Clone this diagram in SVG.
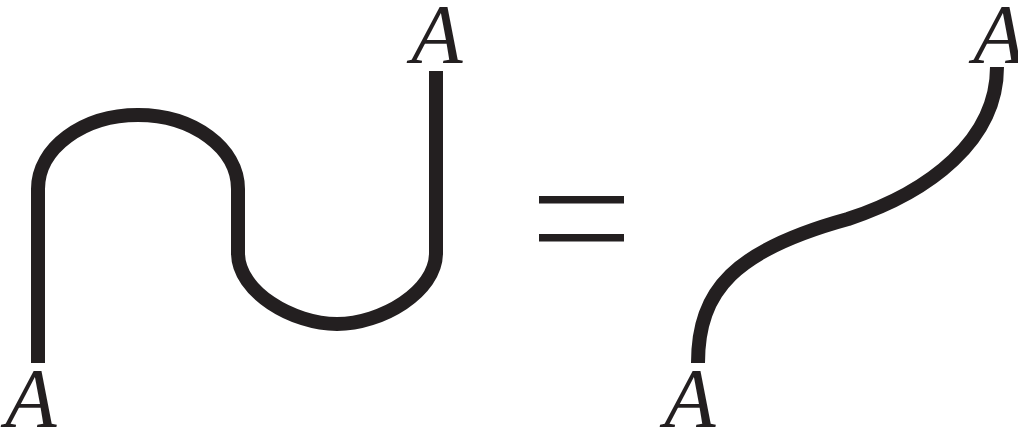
<svg xmlns="http://www.w3.org/2000/svg" width="1018" height="432" viewBox="0 0 1018 432">
<style>
.w{fill:none;stroke:#231f20;stroke-width:14;stroke-linecap:butt}
.lbl{font-family:"Liberation Serif","Times New Roman",serif;font-style:italic;font-size:84px;fill:#231f20;text-anchor:middle}
.eq{fill:#231f20}
</style>
<rect width="1018" height="432" fill="#fff"/>
<g id="connectors">
<path id="snake" class="w" d="M38,363 V189 C38,148 83,115 138,115 C193,115 238,148 238,189 V253 C238,292 293,324 337,324 C381,324 436,292 436,253 V71"/>
<path id="scurve" class="w" d="M698,363 C698,290 735,250 848,219 C930,192 997,140 997,67"/>
</g>
<g id="equals">
<rect class="eq" x="539" y="196" width="85" height="7.5"/>
<rect class="eq" x="539" y="234" width="85" height="7.5"/>
</g>
<g id="label-left-bottom"><text class="lbl" x="31" y="427">A</text></g>
<g id="label-left-top"><text class="lbl" x="437" y="63">A</text></g>
<g id="label-right-bottom"><text class="lbl" x="690" y="427">A</text></g>
<g id="label-right-top"><text class="lbl" x="999" y="63">A</text></g>
</svg>
